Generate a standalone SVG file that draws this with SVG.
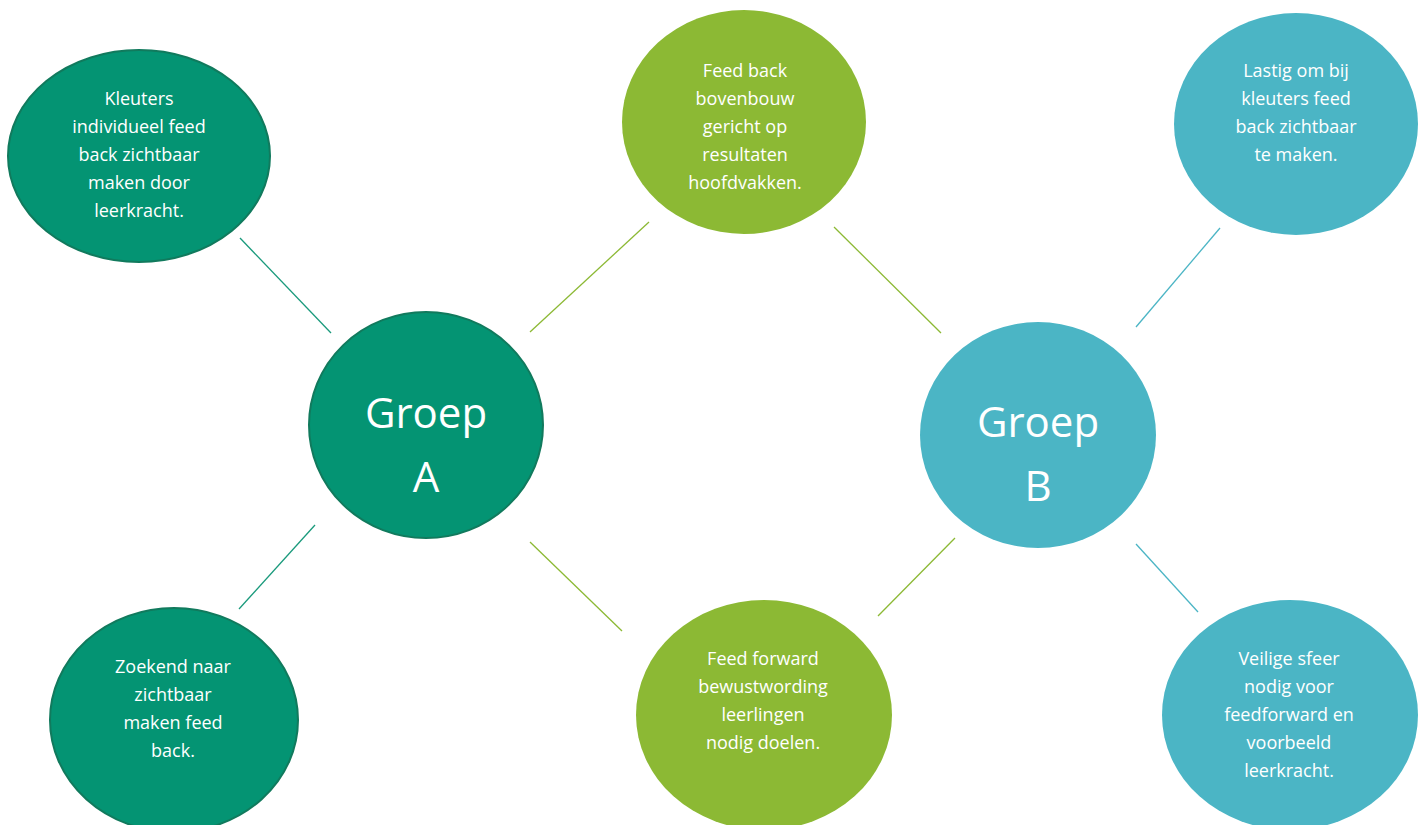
<svg xmlns="http://www.w3.org/2000/svg" width="1422" height="825" viewBox="0 0 1422 825">
<style>
.dg{fill:#049473;stroke:#117a5d;stroke-width:2}
.lg{fill:#8cb934}
.tl{fill:#4bb5c5}
.t{font-family:"Open Sans","Liberation Sans",sans-serif;font-size:18px;fill:#ffffff;text-anchor:middle}
.big{font-family:"Open Sans","Liberation Sans",sans-serif;font-size:42px;fill:#ffffff;text-anchor:middle}
.c{stroke-width:1.3;fill:none}
.cd{stroke:#1a9a7c}
.cg{stroke:#8cb934}
.ct{stroke:#4bb5c5}
</style>
<rect width="1422" height="825" fill="#ffffff"/>
<g id="connectors">
<line class="c cd" x1="240" y1="238" x2="331" y2="333"/>
<line class="c cg" x1="530" y1="332" x2="649" y2="222"/>
<line class="c cg" x1="834" y1="227" x2="941" y2="333"/>
<line class="c ct" x1="1136" y1="327" x2="1220" y2="228"/>
<line class="c cd" x1="315" y1="525" x2="239" y2="609"/>
<line class="c cg" x1="530" y1="542" x2="622" y2="631"/>
<line class="c cg" x1="955" y1="538" x2="878" y2="616"/>
<line class="c ct" x1="1136" y1="544" x2="1198" y2="612"/>
</g>
<g id="node-kleuters">
<ellipse class="dg" cx="139" cy="156" rx="131" ry="106"/>
<text class="t" x="139" y="105">Kleuters</text>
<text class="t" x="139" y="133">individueel feed</text>
<text class="t" x="139" y="161">back zichtbaar</text>
<text class="t" x="139" y="189">maken door</text>
<text class="t" x="139" y="217">leerkracht.</text>
</g>
<g id="node-groep-a">
<ellipse class="dg" cx="426" cy="425" rx="117" ry="113"/>
<text class="big" x="426" y="428">Groep</text>
<text class="big" x="426" y="492">A</text>
</g>
<g id="node-feedback">
<ellipse class="lg" cx="744" cy="122" rx="122" ry="112"/>
<text class="t" x="745" y="77">Feed back</text>
<text class="t" x="745" y="105">bovenbouw</text>
<text class="t" x="745" y="133">gericht op</text>
<text class="t" x="745" y="161">resultaten</text>
<text class="t" x="745" y="189">hoofdvakken.</text>
</g>
<g id="node-lastig">
<ellipse class="tl" cx="1296" cy="124" rx="122" ry="111"/>
<text class="t" x="1296" y="77">Lastig om bij</text>
<text class="t" x="1296" y="105">kleuters feed</text>
<text class="t" x="1296" y="133">back zichtbaar</text>
<text class="t" x="1296" y="161">te maken.</text>
</g>
<g id="node-groep-b">
<ellipse class="tl" cx="1038" cy="435" rx="118" ry="113"/>
<text class="big" x="1038" y="437">Groep</text>
<text class="big" x="1038" y="501">B</text>
</g>
<g id="node-zoekend">
<ellipse class="dg" cx="174" cy="720" rx="124" ry="112"/>
<text class="t" x="173" y="673">Zoekend naar</text>
<text class="t" x="173" y="701">zichtbaar</text>
<text class="t" x="173" y="729">maken feed</text>
<text class="t" x="173" y="757">back.</text>
</g>
<g id="node-feedforward">
<ellipse class="lg" cx="764" cy="715" rx="128" ry="115"/>
<text class="t" x="763" y="665">Feed forward</text>
<text class="t" x="763" y="693">bewustwording</text>
<text class="t" x="763" y="721">leerlingen</text>
<text class="t" x="763" y="749">nodig doelen.</text>
</g>
<g id="node-veilige">
<ellipse class="tl" cx="1290" cy="715" rx="128" ry="115"/>
<text class="t" x="1289" y="665">Veilige sfeer</text>
<text class="t" x="1289" y="693">nodig voor</text>
<text class="t" x="1289" y="721">feedforward en</text>
<text class="t" x="1289" y="749">voorbeeld</text>
<text class="t" x="1289" y="777">leerkracht.</text>
</g>
</svg>
